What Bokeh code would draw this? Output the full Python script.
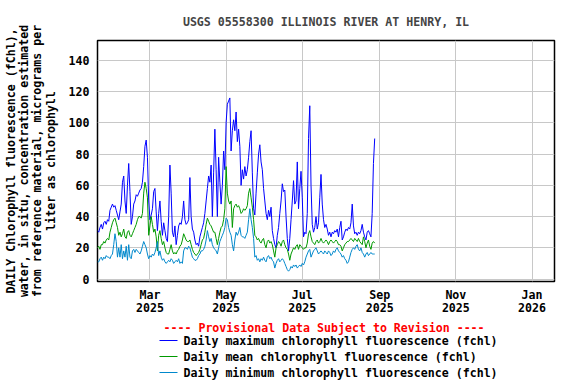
import pandas as pd
from bokeh.plotting import figure
from bokeh.layouts import column
from bokeh.core.properties import value
from bokeh.models import Range1d, FixedTicker, DatetimeTickFormatter, ColumnDataSource
from bokeh.embed import file_html
from bokeh.resources import INLINE

# ---------------- data ----------------
start_date = "2025-01-18"
n_days = 223

max_fchl = [
    31, 30, 33, 35, 32, 36, 37, 35, 38, 37,
    44, 46, 48, 46, 47, 44, 41, 38, 43, 48,
    62, 66, 50, 42, 60, 74, 56, 35, 40, 48,
    50, 54, 53, 55, 57, 58, 62, 72, 85, 89,
    78, 50, 38, 41, 45, 56, 58, 43, 31, 42,
    50, 37, 28, 36, 31, 26, 24, 40, 73, 55,
    30, 27, 34, 22, 28, 34, 36, 35, 40, 50,
    38, 35, 36, 38, 65, 40, 32, 30, 25, 22,
    23, 21, 27, 30, 33, 36, 42, 50, 58, 66,
    62, 73, 40, 68, 96, 70, 40, 78, 62, 48,
    60, 82, 70, 100, 112, 114, 116, 82, 95, 102,
    95, 107, 88, 96, 85, 60, 70, 64, 72, 66,
    70, 78, 88, 95, 68, 45, 41, 55, 68, 80,
    86, 75, 70, 58, 50, 42, 38, 44, 40, 46,
    31, 26, 22, 20, 28, 33, 42, 50, 61, 56,
    57, 40, 26, 18, 26, 38, 50, 63, 48, 50,
    75, 45, 58, 69, 52, 27, 30, 29, 42, 90,
    111, 60, 35, 30, 33, 40, 32, 36, 52, 67,
    48, 38, 33, 35, 32, 28, 30, 27, 30, 29,
    31, 30, 32, 27, 33, 37, 25, 27, 30, 32,
    31, 33, 32, 36, 48, 34, 29, 30, 28, 30,
    29, 31, 35, 30, 27, 25, 30, 31, 29, 27,
    42, 74, 90,
]

mean_fchl = [
    20, 21, 19, 22, 22, 24, 23, 25, 26, 25,
    30, 33, 36, 38, 39, 36, 33, 28, 30, 27,
    29, 32, 27, 26, 30, 31, 28, 27, 29, 31,
    33, 35, 38, 40, 40, 39, 42, 55, 62, 58,
    52, 28, 34, 40, 35, 30, 32, 27, 18, 28,
    31, 26, 22, 24, 20, 17, 16, 16, 19, 22,
    18, 16, 17, 16, 18, 19, 21, 22, 25, 29,
    27, 25, 24, 24, 25, 22, 19, 17, 16, 15,
    16, 17, 19, 22, 25, 26, 30, 35, 39, 37,
    35, 34, 32, 30, 30, 26, 22, 26, 30, 33,
    34, 38, 45, 72, 55, 50, 48, 50, 33, 45,
    47, 48, 46, 47, 45, 42, 43, 45, 44, 45,
    47, 55, 58, 52, 46, 38, 28, 27, 25, 26,
    24, 23, 25, 26, 22, 20, 24, 25, 23, 24,
    22, 18, 14, 20, 22, 24, 23, 21, 24, 25,
    22, 20, 19, 16, 12, 16, 18, 20, 19, 21,
    22, 19, 22, 21, 20, 19, 20, 20, 23, 29,
    31, 27, 24, 23, 22, 24, 25, 23, 24, 26,
    24, 23, 24, 25, 24, 22, 24, 25, 24, 23,
    24, 25, 24, 22, 22, 21, 18, 20, 22, 23,
    24, 24, 25, 26, 25, 24, 26, 25, 24, 26,
    24, 23, 22, 27, 24, 20, 23, 25, 21, 19,
    23, 24, 23,
]

min_fchl = [
    11, 11, 13, 14, 12, 14, 13, 15, 14, 14,
    13, 15, 16, 22, 29, 24, 14, 20, 14, 22,
    13, 18, 14, 21, 12, 22, 14, 13, 18, 19,
    17, 19, 18, 17, 16, 18, 21, 24, 22, 20,
    16, 13, 15, 14, 16, 15, 17, 20, 24, 15,
    18, 14, 12, 13, 11, 10, 11, 12, 11, 13,
    12, 10, 11, 12, 11, 13, 10, 11, 10, 18,
    20, 20, 19, 21, 20, 17, 14, 13, 12, 12,
    13, 15, 16, 18, 18, 19, 21, 25, 31, 27,
    24, 26, 22, 20, 19, 18, 16, 20, 24, 26,
    28, 30, 33, 39, 38, 33, 30, 28, 22, 18,
    25, 30, 28, 30, 33, 28, 27, 27, 26, 28,
    30, 38, 45, 38, 33, 26, 14, 15, 12, 13,
    11, 13, 12, 14, 12, 11, 14, 15, 13, 14,
    12, 11, 7, 10, 12, 13, 11, 12, 13, 12,
    10, 8, 6, 5, 6, 8, 7, 9, 8, 9,
    7, 8, 9, 8, 10, 9, 11, 14, 16, 18,
    19, 14, 16, 18, 19, 20, 18, 16, 17, 18,
    17, 16, 18, 17, 16, 18, 17, 15, 16, 18,
    17, 19, 20, 18, 17, 16, 14, 15, 13, 12,
    10, 11, 14, 17, 19, 20, 19, 21, 22, 19,
    18, 20, 17, 16, 14, 16, 17, 15, 16, 17,
    16, 16, 16,
]

x_tick_dates = ["2025-03-01", "2025-05-01", "2025-07-01", "2025-09-01", "2025-11-01", "2026-01-01"]
y_ticks = [0, 20, 40, 60, 80, 100, 120, 140]

title_text = "USGS 05558300 ILLINOIS RIVER AT HENRY, IL"
y_label = ("DAILY Chlorophyll fluorescence (fChl),\n"
           "water, in situ, concentration estimated\n"
           "from reference material, micrograms per\n"
           "liter as chlorophyll")
provisional = "---- Provisional Data Subject to Revision ----"
series_labels = [
    "Daily maximum chlorophyll fluorescence (fchl)",
    "Daily mean chlorophyll fluorescence (fchl)",
    "Daily minimum chlorophyll fluorescence (fchl)",
]
series_colors = ["#0000ff", "#009900", "#0088cc"]

# ---------------- main figure ----------------
FONT = "DejaVu Sans Mono"
FS = "11.6px"

dates = pd.date_range(start_date, periods=n_days, freq="D")
src = ColumnDataSource(dict(date=dates, mx=max_fchl, mn=mean_fchl, lo=min_fchl))

p = figure(width=576, height=318, x_axis_type="datetime",
           output_backend="svg", toolbar_location=None,
           x_range=Range1d(pd.Timestamp("2025-01-18"), pd.Timestamp("2026-01-19")),
           y_range=Range1d(-1.6, 152.8),
           min_border_left=97, min_border_right=22, min_border_top=39, min_border_bottom=37)

p.title.text = title_text
p.title.align = "center"
p.title.text_font = FONT
p.title.text_font_size = FS
p.title.text_font_style = "bold"
p.title.standoff = 24

p.line("date", "mx", source=src, line_color=series_colors[0], line_width=1)
p.line("date", "mn", source=src, line_color=series_colors[1], line_width=1)
p.line("date", "lo", source=src, line_color=series_colors[2], line_width=1)

tick_ms = [pd.Timestamp(d).value // 10**6 for d in x_tick_dates]
p.xaxis.ticker = FixedTicker(ticks=tick_ms)
fmt = "%b\n%Y"
p.xaxis.formatter = DatetimeTickFormatter(
    milliseconds=fmt, seconds=fmt, minsec=fmt, minutes=fmt, hourmin=fmt,
    hours=fmt, days=fmt, months=fmt, years=fmt)
p.yaxis.ticker = FixedTicker(ticks=y_ticks)

for ax in (p.xaxis[0], p.yaxis[0]):
    ax.major_label_text_font = FONT
    ax.major_label_text_font_size = FS
    ax.major_label_text_font_style = "bold"
    ax.major_label_text_color = "black"
    ax.axis_line_color = None
    ax.major_tick_line_color = None
    ax.minor_tick_line_color = None
    ax.major_tick_in = 0
    ax.major_tick_out = 0

p.xaxis.major_label_standoff = 6
p.xaxis.major_label_text_line_height = 0.95
p.yaxis.major_label_standoff = 8

p.yaxis.axis_label = y_label
p.yaxis.axis_label_text_font = FONT
p.yaxis.axis_label_text_font_size = FS
p.yaxis.axis_label_text_font_style = "bold"
p.yaxis.axis_label_text_color = "black"
p.yaxis.axis_label_text_line_height = 0.95
p.yaxis.axis_label_standoff = 8

p.grid.grid_line_color = "#c8c8c8"
p.grid.grid_line_width = 1
p.outline_line_color = "black"
p.outline_line_width = 1.5
p.background_fill_color = "white"
p.border_fill_color = "white"

# ---------------- legend strip (pixel-like coordinates, y downward) ----------------
p2 = figure(width=576, height=66, output_backend="svg", toolbar_location=None,
            x_range=Range1d(97, 554), y_range=Range1d(66, 0),
            x_axis_location=None, y_axis_location=None, min_border=0)
p2.grid.visible = False
p2.outline_line_color = None
p2.background_fill_color = "white"
p2.border_fill_color = "white"

row_y = [22, 38, 54]
key_src = ColumnDataSource(dict(x0=[159] * 3, x1=[177] * 3, y=row_y, color=series_colors))
p2.segment(x0="x0", y0="y", x1="x1", y1="y", source=key_src, line_color="color", line_width=1)
p2.text(x=[183] * 3, y=row_y, text=series_labels,
        text_font=value(FONT), text_font_size=FS, text_font_style="bold",
        text_color="black", text_align="left", text_baseline="middle")
p2.text(x=[163], y=[9], text=[provisional],
        text_font=value(FONT), text_font_size=FS, text_font_style="bold",
        text_color="red", text_align="left", text_baseline="middle")

layout = column(p, p2, spacing=0)
open("out.html", "w").write(file_html(layout, INLINE))
